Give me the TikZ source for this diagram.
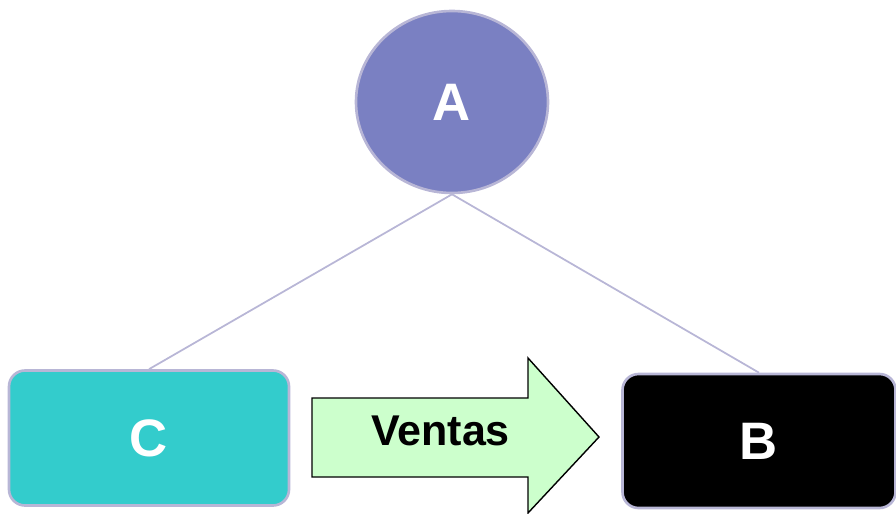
\documentclass[tikz,border=0pt]{standalone}
\usepackage{fontspec}
\setmainfont{Liberation Sans}
\usetikzlibrary{positioning,shapes.geometric}

\definecolor{nodeedge}{HTML}{B8B6D6}
\definecolor{afill}{HTML}{7A80C2}
\definecolor{cfill}{HTML}{33CCCC}
\definecolor{arrowfill}{HTML}{CCFFCC}

\begin{document}
\begin{tikzpicture}[
	letter/.style={font=\fontsize{30}{36}\selectfont\bfseries, text=white},
	box/.style={draw=nodeedge, line width=1.5pt, rounded corners=0.32cm,
		minimum width=5.6cm, minimum height=2.7cm, letter},
	link/.style={draw=nodeedge, line width=1pt},
	ventas/.style={draw=black, line width=0.8pt, fill=arrowfill}
	]
	\useasboundingbox (0,0) rectangle (17.92,-10.28);
	%% top node
	\node[ellipse, draw=nodeedge, line width=1.5pt, fill=afill,
		minimum width=3.84cm, minimum height=3.64cm, letter] (A) at (9.04,-2.04) {A};
	%% bottom nodes
	\node[box, fill=cfill] (C) at (2.98,-8.76) {C};
	\node[box, fill=black, minimum width=5.46cm, minimum height=2.68cm] (B) at (15.18,-8.82) {B};
	% lines from the top
	\draw[link] (A.south) -- (C.north);
	\draw[link] (A.south) -- (B.north);
	% arrow between C and B
	\coordinate (v1) at (6.24,-7.96);
	\coordinate (v2) at (10.56,-7.96);
	\coordinate (v3) at (10.56,-7.16);
	\coordinate (tip) at (11.98,-8.74);
	\coordinate (v5) at (10.56,-10.26);
	\coordinate (v6) at (10.56,-9.54);
	\coordinate (v7) at (6.24,-9.54);
	\draw[ventas] (v1) -- (v2) -- (v3) -- (tip) -- (v5) -- (v6) -- (v7) -- cycle;
	\node[font=\fontsize{24.5}{30}\selectfont\bfseries] (ventas) at (8.81,-8.62) {Ventas};
\end{tikzpicture}
\end{document}
